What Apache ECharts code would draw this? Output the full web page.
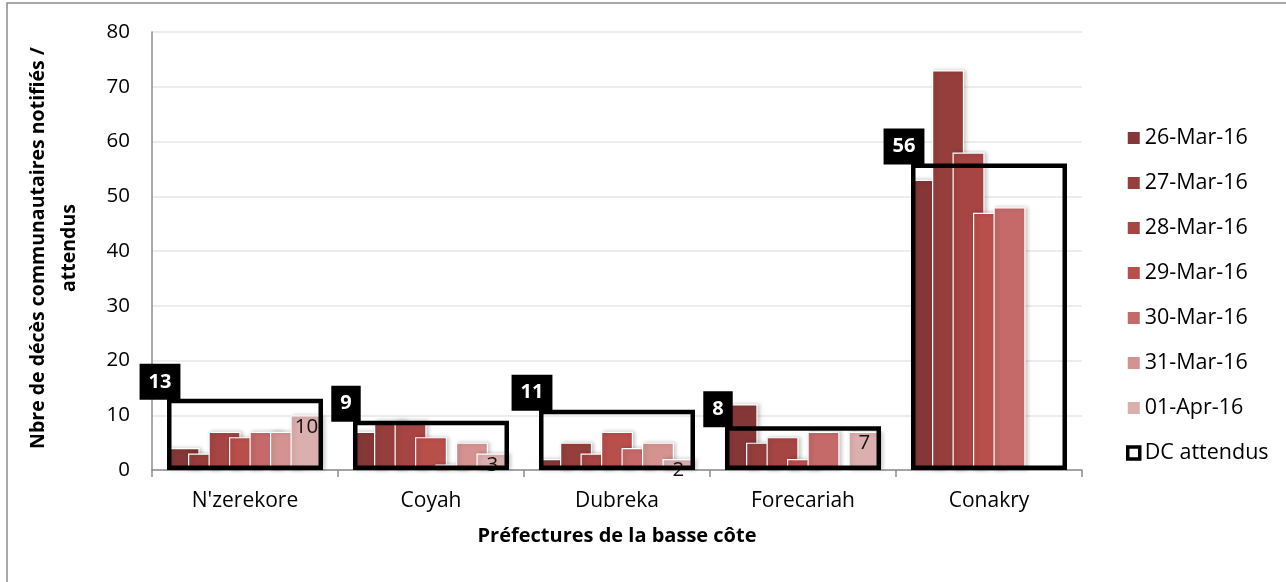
<!DOCTYPE html>
<html><head><meta charset="utf-8">
<script src="https://cdn.jsdelivr.net/npm/echarts@6/dist/echarts.min.js"></script>
<style>html,body{margin:0;padding:0;background:#fff}#c{width:1286px;height:582px}</style>
</head><body><div id="c"></div>
<script>
const categories = ["N'zerekore", "Coyah", "Dubreka", "Forecariah", "Conakry"];
const dateNames = ["26-Mar-16", "27-Mar-16", "28-Mar-16", "29-Mar-16", "30-Mar-16", "31-Mar-16", "01-Apr-16"];
const mar26 = [4, 7, 2, 12, 53];
const mar27 = [3, 9, 5, 5, 73];
const mar28 = [7, 9, 3, 6, 58];
const mar29 = [6, 6, 7, 2, 47];
const mar30 = [7, 1, 4, 7, 48];
const mar31 = [7, 5, 5, null, null];
const apr01 = [10, 3, 2, 7, null];
const dcAttendusName = "DC attendus";
const dcAttendus = [13, 9, 11, 8, 56];
const yMin = 0, yMax = 80, yInterval = 10;
const xTitle = "Préfectures de la basse côte";
const yTitle = "Nbre de décès communautaires notifiés /\nattendus";

const colors = ["#853636", "#963e3c", "#a64543", "#b84f4b", "#c56a69", "#d49391", "#dcafaf"];
const FONT = '"Open Sans", "Liberation Sans", sans-serif';
const dateValues = [mar26, mar27, mar28, mar29, mar30, mar31, apr01];

const chart = echarts.init(document.getElementById('c'), null, {renderer: 'canvas'});

const barSeries = dateNames.map((n, i) => ({
  type: 'bar',
  name: n,
  data: dateValues[i],
  xAxisIndex: 0,
  barWidth: 32,
  barGap: '-36%',
  z: 2,
  itemStyle: {
    color: colors[i],
    borderColor: '#ffffff',
    borderWidth: 1.2,
    shadowColor: 'rgba(0,0,0,0.22)',
    shadowBlur: 4,
    shadowOffsetX: 2
  },
  label: i === dateNames.length - 1 ? {
    show: true, position: 'insideTop', distance: 1,
    fontSize: 20.5, fontFamily: FONT, color: '#111'
  } : {show: false}
}));

const boxSeries = {
  type: 'bar',
  name: dcAttendusName,
  data: dcAttendus,
  xAxisIndex: 1,
  barWidth: 156,
  z: 4,
  itemStyle: {color: 'rgba(0,0,0,0)', borderColor: '#000', borderWidth: 4.5},
  label: {
    show: true, position: [-7, -17], align: 'center', verticalAlign: 'middle',
    backgroundColor: '#000', color: '#fff', fontWeight: 'bold', fontSize: 20,
    fontFamily: FONT, lineHeight: 20, padding: [8, 9]
  }
};

chart.setOption({
  animation: false,
  backgroundColor: '#fff',
  grid: {left: 152, right: 204, top: 32, bottom: 112},
  xAxis: [{
    type: 'category', data: categories,
    axisLine: {lineStyle: {color: '#8c8c8c', width: 1.5}},
    axisTick: {show: true, length: 7, lineStyle: {color: '#8c8c8c', width: 1.5}},
    axisLabel: {fontSize: 21, fontFamily: FONT, color: '#000', margin: 21},
    name: xTitle, nameLocation: 'middle', nameGap: 56,
    nameTextStyle: {fontSize: 20, fontWeight: 'bold', fontFamily: FONT, color: '#000'}
  }, {
    type: 'category', data: categories, show: false
  }],
  yAxis: {
    type: 'value', min: yMin, max: yMax, interval: yInterval,
    axisLine: {show: true, lineStyle: {color: '#8c8c8c', width: 1.5}},
    axisTick: {show: false},
    splitLine: {lineStyle: {color: '#e6e6e6', width: 1.5}},
    axisLabel: {fontSize: 20.5, fontFamily: FONT, color: '#000', margin: 22}
  },
  legend: {
    orient: 'vertical', left: 1126, top: 127, padding: 0,
    itemWidth: 12, itemHeight: 12, itemGap: 23,
    textStyle: {fontSize: 21.5, fontFamily: FONT, color: '#000', lineHeight: 20},
    itemStyle: {borderWidth: 0, shadowBlur: 0, shadowColor: 'rgba(0,0,0,0)'},
    data: dateNames.map(n => ({name: n, icon: 'rect'})).concat([{
      name: dcAttendusName, icon: 'rect',
      itemStyle: {color: '#fff', borderColor: '#000', borderWidth: 3.5}
    }])
  },
  graphic: [{
    type: 'rect', silent: true,
    shape: {x: 7, y: 3, width: 1300, height: 600},
    style: {fill: 'none', stroke: '#8c8c8c', lineWidth: 1.5}
  }, {
    type: 'text', silent: true, x: 54, y: 248, rotation: Math.PI / 2,
    style: {
      text: yTitle, align: 'center', verticalAlign: 'middle',
      font: 'bold 19.5px ' + FONT, lineHeight: 31, fill: '#000'
    }
  }],
  series: barSeries.concat([boxSeries])
});
</script></body></html>
